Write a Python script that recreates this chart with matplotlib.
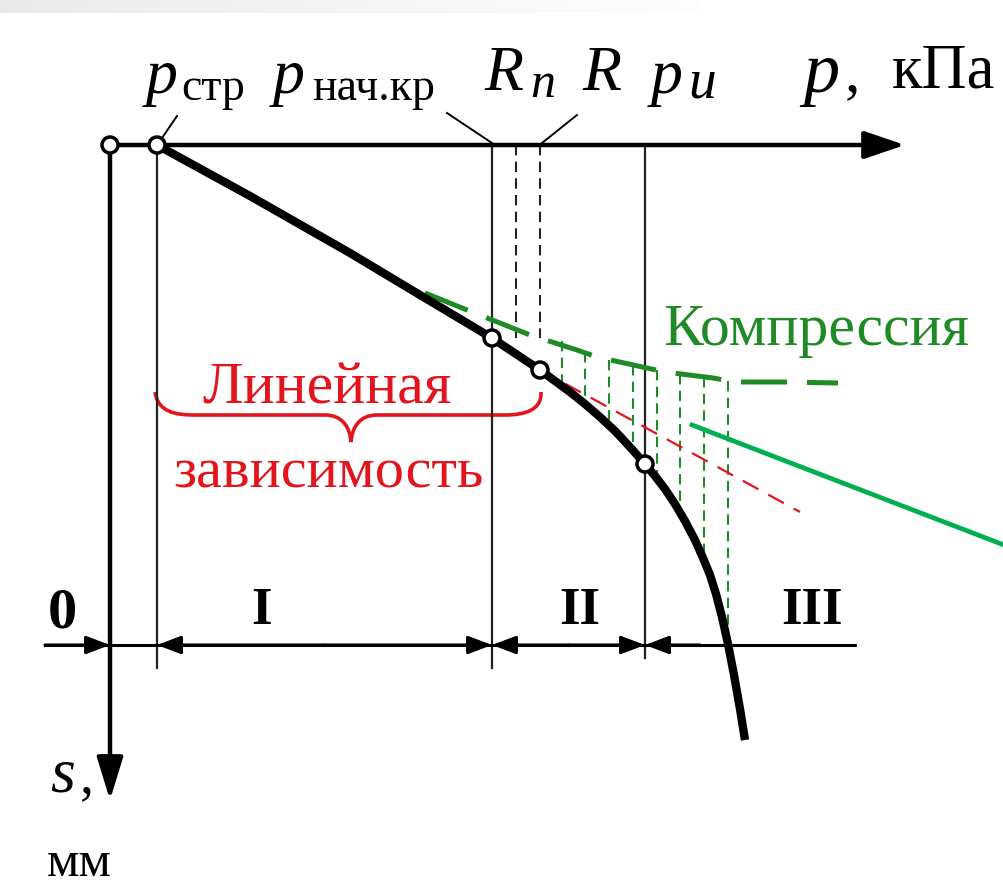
import matplotlib.pyplot as plt
import numpy as np
from matplotlib.path import Path
from matplotlib.patches import PathPatch, Circle

plt.rcParams['font.family'] = ['Liberation Serif', 'DejaVu Serif']

# load-settlement curve (p to the right, s downward), drawing units
curve_p = [157, 250, 350, 420, 492, 540, 555, 570, 585, 600, 615, 630, 645,
           655, 665, 675, 685, 695, 703, 710, 716, 722, 728, 734, 740, 745]
curve_s = [145, 196, 253, 295, 338, 370, 381, 392, 404, 417, 431, 447, 464,
           476, 489, 504, 521, 540, 558, 575, 594, 617, 644, 675, 709, 740]

# compression curve
comp_p = [425, 467, 510, 530, 577, 597, 647, 665, 713, 735, 783, 838]
comp_s = [293, 310, 327, 335, 350, 357, 368, 372, 378, 382, 382, 383]

# hatching between compression and the settlement curve
hatch_p = [562, 585, 609, 633, 657, 680, 704, 728]
hatch_top = [341, 352, 360, 365, 370, 374, 377, 381]
hatch_bot = [387, 404, 425, 450, 479, 512, 562, 640]

# linear part extension
lin_p = [540, 800]
lin_s = [370, 512]

# characteristic pressures
p_origin = 110
p_str = 157
p_nach = 492
R_n = 516
R_val = 540
p_u = 645
s_points = [145, 145, 338, 370, 464]

zone_labels = ['0', 'I', 'II', 'III']
zone_x = [62, 262, 580, 812]

RED = '#e3141c'
GREEN = '#1f8a26'
BRIGHT_GREEN = '#00b050'

fig = plt.figure(figsize=(10.04, 8.9), dpi=100)
ax = fig.add_axes([0, 0, 1, 1])
ax.set_xlim(0, 1004)
ax.set_ylim(890, 0)
ax.axis('off')

# faint grey band at the top
grad = np.linspace(0, 1, 256).reshape(1, -1)
ax.imshow(grad, cmap='Greys_r', extent=[0, 700, 13, 0], aspect='auto',
          vmin=-5.5, vmax=1.1, zorder=0)

# axes
ax.annotate('', xy=(905, 145), xytext=(p_origin - 2, 145),
            arrowprops=dict(arrowstyle='-|>,head_length=2.5,head_width=0.85',
                            lw=3.2, color='black', shrinkA=0, shrinkB=0))
ax.annotate('', xy=(p_origin, 800), xytext=(p_origin, 145),
            arrowprops=dict(arrowstyle='-|>,head_length=2.6,head_width=0.8',
                            lw=3.2, color='black', shrinkA=0, shrinkB=0))

# thin verticals
ax.plot([p_str, p_str], [145, 668], color='#222222', lw=1.6)
ax.plot([p_nach, p_nach], [145, 668], color='#222222', lw=1.6)
ax.plot([p_u, p_u], [145, 658], color='#222222', lw=1.6)
ax.plot([R_n, R_n], [145, 338], color='#222222', lw=1.5, ls=(0, (5, 3)))
ax.plot([R_val, R_val], [145, 338], color='#222222', lw=1.5, ls=(0, (5, 3)))

# leaders to labels
ax.plot([162, 177], [138, 116], color='black', lw=1.4)
ax.plot([447, 492], [113, 143], color='black', lw=1.4)
ax.plot([577, 542], [115, 143], color='black', lw=1.4)

# hatching and compression curve
for x, t, b in zip(hatch_p, hatch_top, hatch_bot):
    ax.plot([x, x], [t, b], color=GREEN, lw=1.5, ls=(0, (5, 3)), zorder=2)
ax.plot(comp_p, comp_s, color=GREEN, lw=3.6, ls=(0, (9.2, 4)), zorder=3)

# linear extension
ax.plot(lin_p, lin_s, color=RED, lw=1.6, ls=(0, (8, 5)), zorder=3)

# settlement curve
ax.plot(curve_p, curve_s, color='black', lw=6, solid_capstyle='butt',
        solid_joinstyle='round', zorder=4)

# characteristic points
for x, y in zip([p_origin, p_str, p_nach, R_val, p_u], s_points):
    ax.add_patch(Circle((x, y), 8, facecolor='white', edgecolor='black', lw=2.5, zorder=5))

# pointer to the hatched area
ax.plot([692, 1004], [425, 545], color=BRIGHT_GREEN, lw=3.4, zorder=3)

# zone dimension line
dim_y = 645
ax.plot([45, 855], [dim_y, dim_y], color='black', lw=2.2)
arr = dict(arrowstyle='-|>,head_length=1.45,head_width=0.55', lw=2.2, color='black',
           shrinkA=0, shrinkB=0)
ax.annotate('', xy=(p_origin, dim_y), xytext=(45, dim_y), arrowprops=arr)
for a, b in [(p_str, p_nach), (p_nach, p_u)]:
    ax.annotate('', xy=(a, dim_y), xytext=((a + b) / 2, dim_y), arrowprops=arr)
    ax.annotate('', xy=(b, dim_y), xytext=((a + b) / 2, dim_y), arrowprops=arr)
ax.annotate('', xy=(p_u, dim_y), xytext=(700, dim_y), arrowprops=arr)
for lab, x in zip(zone_labels, zone_x):
    fs = 42 if lab == '0' else 38
    ax.text(x, 624 if lab != '0' else 628, lab, fontsize=fs, fontweight='bold',
            ha='center', va='baseline')

# red brace
verts = [(155, 392), (158, 412), (175, 415), (195, 415),
         (325, 415), (343, 415), (350, 428), (351, 442),
         (352, 428), (359, 415), (377, 415),
         (505, 415), (525, 415), (542, 410), (541, 392)]
codes = [Path.MOVETO, Path.CURVE4, Path.CURVE4, Path.CURVE4,
         Path.LINETO, Path.CURVE4, Path.CURVE4, Path.CURVE4,
         Path.CURVE4, Path.CURVE4, Path.CURVE4,
         Path.LINETO, Path.CURVE4, Path.CURVE4, Path.CURVE4]
ax.add_patch(PathPatch(Path(verts, codes), facecolor='none', edgecolor=RED, lw=2.6))

# labels
big = 46
sub = 33
ax.text(146, 93, 'p', fontsize=big, style='italic', va='baseline')
ax.text(181, 100, 'стр', fontsize=sub, va='baseline')
ax.text(273, 93, 'p', fontsize=big, style='italic', va='baseline')
ax.text(312, 100, 'нач.кр', fontsize=sub, va='baseline')
ax.text(484, 90, 'R', fontsize=46, style='italic', va='baseline')
ax.text(530, 97, 'n', fontsize=36, style='italic', va='baseline')
ax.text(582, 90, 'R', fontsize=46, style='italic', va='baseline')
ax.text(651, 93, 'p', fontsize=big, style='italic', va='baseline')
ax.text(688, 97, 'u', fontsize=40, style='italic', va='baseline')
ax.text(803, 92, 'p', fontsize=52, style='italic', va='baseline')
ax.text(845, 90, ',', fontsize=44, va='baseline')
ax.text(892, 88, 'кПа', fontsize=45, va='baseline')

ax.text(663, 345, 'Компрессия', fontsize=43, color=GREEN, va='baseline')
ax.text(327, 403, 'Линейная', fontsize=43, color=RED, ha='center', va='baseline')
ax.text(329, 488, 'зависимость', fontsize=42, color=RED, ha='center', va='baseline')

ax.text(50, 792, 's', fontsize=big, style='italic', va='baseline')
ax.text(80, 792, ',', fontsize=40, va='baseline')
ax.text(47, 876, 'мм', fontsize=37, va='baseline')

fig.savefig('out.png', dpi=100)
